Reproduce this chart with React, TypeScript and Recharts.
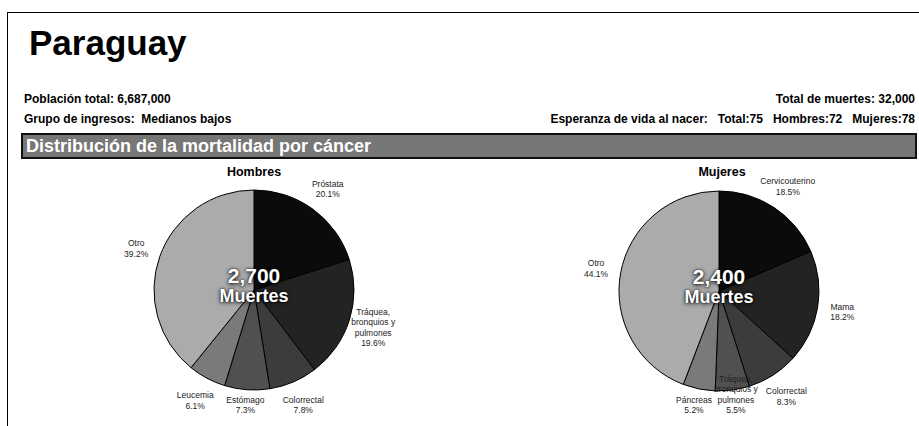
import React from 'react';
import { PieChart, Pie, Cell } from 'recharts';

const pais = 'Paraguay';
const poblacion = 'Población total: 6,687,000';
const grupoIngresos = 'Grupo de ingresos:  Medianos bajos';
const totalMuertes = 'Total de muertes: 32,000';
const esperanzaVida = 'Esperanza de vida al nacer:   Total:75   Hombres:72   Mujeres:78';
const tituloSeccion = 'Distribución de la mortalidad por cáncer';

const hombresTitulo = 'Hombres';
const hombresEtiquetas = [['Próstata'], ['Tráquea,', 'bronquios y', 'pulmones'], ['Colorrectal'], ['Estómago'], ['Leucemia'], ['Otro']];
const hombresValores = [20.1, 19.6, 7.8, 7.3, 6.1, 39.2];
const hombresMuertes = '2,700';

const mujeresTitulo = 'Mujeres';
const mujeresEtiquetas = [['Cervicouterino'], ['Mama'], ['Colorrectal'], ['Tráquea,', 'bronquios y', 'pulmones'], ['Páncreas'], ['Otro']];
const mujeresValores = [18.5, 18.2, 8.3, 5.5, 5.2, 44.1];
const mujeresMuertes = '2,400';

const colores = ['#0b0b0b', '#232323', '#3c3c3c', '#505050', '#7a7a7a', '#ababab'];

const FONT = '"Liberation Sans", Arial, Helvetica, sans-serif';
const RAD = Math.PI / 180;
const MAX_LAST_LINE_Y = 410;

const buildData = (labels: string[][], values: number[]) =>
  values.map((v, i) => ({ name: labels[i].join(' '), lines: labels[i], value: v }));

const hombresData = buildData(hombresEtiquetas, hombresValores);
const mujeresData = buildData(mujeresEtiquetas, mujeresValores);

const renderLabel = (props: any) => {
  const { cx, cy, midAngle, outerRadius, payload, value } = props;
  const r = outerRadius + 25;
  const x = cx + r * Math.cos(-midAngle * RAD);
  const y = cy + r * Math.sin(-midAngle * RAD);
  const lines: string[] = [...(payload.lines || [payload.name]), `${Number(value).toFixed(1)}%`];
  const lh = 10.5;
  let y0 = y - ((lines.length - 1) * lh) / 2;
  const last = y0 + (lines.length - 1) * lh;
  if (last > MAX_LAST_LINE_Y) y0 -= last - MAX_LAST_LINE_Y;
  return (
    <text x={x} y={y0} textAnchor="middle" dominantBaseline="central" fontFamily={FONT} fontSize={8.5} fill="#222">
      {lines.map((l, i) => (
        <tspan key={i} x={x} y={y0 + i * lh}>{l}</tspan>
      ))}
    </text>
  );
};

const HCX = 254;
const HCY = 290;
const MCX = 719;
const MCY = 291;
const R = 100;

const centerStyle = (cx: number, cy: number): React.CSSProperties => ({
  position: 'absolute',
  left: cx - 60,
  top: cy - 24,
  width: 120,
  textAlign: 'center',
  color: '#fff',
  fontFamily: FONT,
  fontWeight: 'bold',
  textShadow: '0 1px 4px rgba(0,0,0,0.95), 0 0 2px rgba(0,0,0,0.8)',
  lineHeight: '20px',
});

const info: React.CSSProperties = { position: 'absolute', fontSize: 12, fontWeight: 'bold', whiteSpace: 'pre', color: '#000' };

export default function App() {
  return (
    <div style={{ position: 'absolute', left: 0, top: 0, width: 919, height: 426, overflow: 'hidden', background: '#fff', fontFamily: FONT }}>
      <div style={{ position: 'absolute', left: 7, top: 12, width: 950, height: 450, borderTop: '1.5px solid #000', borderLeft: '1.5px solid #000' }} />
      <div style={{ position: 'absolute', left: 29, top: 23, fontSize: 35, fontWeight: 'bold', color: '#000' }}>{pais}</div>
      <div style={{ ...info, left: 24, top: 92 }}>{poblacion}</div>
      <div style={{ ...info, left: 24, top: 112 }}>{grupoIngresos}</div>
      <div style={{ ...info, right: 4, top: 92 }}>{totalMuertes}</div>
      <div style={{ ...info, right: 4, top: 112 }}>{esperanzaVida}</div>
      <div style={{ position: 'absolute', left: 21, top: 133, width: 889, height: 22, background: '#777', border: '2px solid #111', color: '#fff', fontSize: 18, fontWeight: 'bold', lineHeight: '22px', paddingLeft: 3, boxSizing: 'content-box' }}>{tituloSeccion}</div>
      <div style={{ position: 'absolute', left: HCX - 60, top: 165, width: 120, textAlign: 'center', fontSize: 12.5, fontWeight: 'bold' }}>{hombresTitulo}</div>
      <div style={{ position: 'absolute', left: MCX - 57, top: 165, width: 120, textAlign: 'center', fontSize: 12.5, fontWeight: 'bold' }}>{mujeresTitulo}</div>
      <div style={{ position: 'absolute', left: 0, top: 0 }}>
        <PieChart width={919} height={426} margin={{ top: 0, right: 0, bottom: 0, left: 0 }}>
          <Pie data={hombresData} dataKey="value" nameKey="name" cx={HCX} cy={HCY} outerRadius={R} startAngle={90} endAngle={-270} stroke="#000" strokeWidth={1} label={renderLabel} labelLine={false} isAnimationActive={false}>
            {hombresData.map((d, i) => <Cell key={d.name} fill={colores[i]} />)}
          </Pie>
          <Pie data={mujeresData} dataKey="value" nameKey="name" cx={MCX} cy={MCY} outerRadius={R} startAngle={90} endAngle={-270} stroke="#000" strokeWidth={1} label={renderLabel} labelLine={false} isAnimationActive={false}>
            {mujeresData.map((d, i) => <Cell key={d.name} fill={colores[i]} />)}
          </Pie>
        </PieChart>
      </div>
      <div style={centerStyle(HCX, HCY)}>
        <div style={{ fontSize: 21 }}>{hombresMuertes}</div>
        <div style={{ fontSize: 18 }}>Muertes</div>
      </div>
      <div style={centerStyle(MCX, MCY)}>
        <div style={{ fontSize: 21 }}>{mujeresMuertes}</div>
        <div style={{ fontSize: 18 }}>Muertes</div>
      </div>
    </div>
  );
}
